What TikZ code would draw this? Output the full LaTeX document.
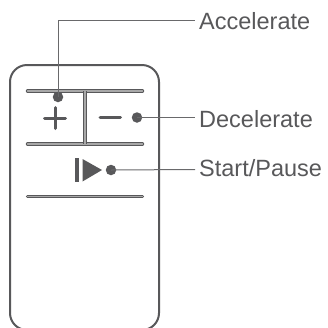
\documentclass[tikz,border=0pt]{standalone}
\usepackage{fontspec}
\setmainfont{Liberation Sans}
\definecolor{ink}{HTML}{58585A}
\definecolor{inner}{HTML}{A8A8A8}
\tikzset{
  body/.style={draw=ink,line width=2pt},
  leader/.style={draw=ink!90,line width=1pt},
  dotnode/.style={circle,fill=ink,draw=none,inner sep=0pt,minimum size=10.5pt},
  lab/.style={anchor=base west,inner sep=0pt,text=ink,font=\fontsize{23.5}{26}\selectfont},
  barout/.style={draw=ink,line width=3.4pt,line cap=round},
  barin/.style={draw=inner,line width=1.2pt,line cap=round},
  glyph/.style={draw=ink,line width=3pt,line cap=round},
}
\begin{document}
\begin{tikzpicture}[x=1pt,y=-1pt]
\useasboundingbox (0,0) rectangle (328,327);
\clip (0,0) rectangle (328,327);
\draw[body,rounded corners=17pt] (10,65) rectangle (159,330);
% bars
\foreach \yy in {91,144,196.5}{
  \draw[barout] (27.5,\yy) -- (142.5,\yy);
  \draw[barin] (27.5,\yy) -- (142.5,\yy);
}
\draw[draw=ink,line width=3.4pt] (85,91) -- (85,144);
\draw[draw=inner,line width=1.2pt] (85,91) -- (85,144);
% glyphs
\draw[glyph] (44.5,118) -- (65.5,118);
\draw[glyph] (55,107.5) -- (55,128.5);
\draw[glyph] (100,117.5) -- (120.5,117.5);
\fill[ink] (75,158) rectangle (79,182);
\fill[ink] (82.5,159) -- (102,170) -- (82.5,181.5) -- cycle;
% nodes
\node[dotnode] (acc) at (58,97) {};
\node[dotnode] (dec) at (137,117.5) {};
\node[dotnode] (sta) at (111,170) {};
\node[lab] (tacc) at (199,29) {Accelerate};
\node[lab] (tdec) at (199,127) {Decelerate};
\node[lab] (tsta) at (199,176) {Start/Pause};
\coordinate (ea) at (195,20);
\coordinate (ed) at (195,117.5);
\coordinate (es) at (195,169.5);
\draw[leader] (acc.center) -- (58,20) -- (ea);
\draw[leader] (dec.center) -- (ed);
\draw[leader] (sta.center) -- (es);
\end{tikzpicture}
\end{document}
